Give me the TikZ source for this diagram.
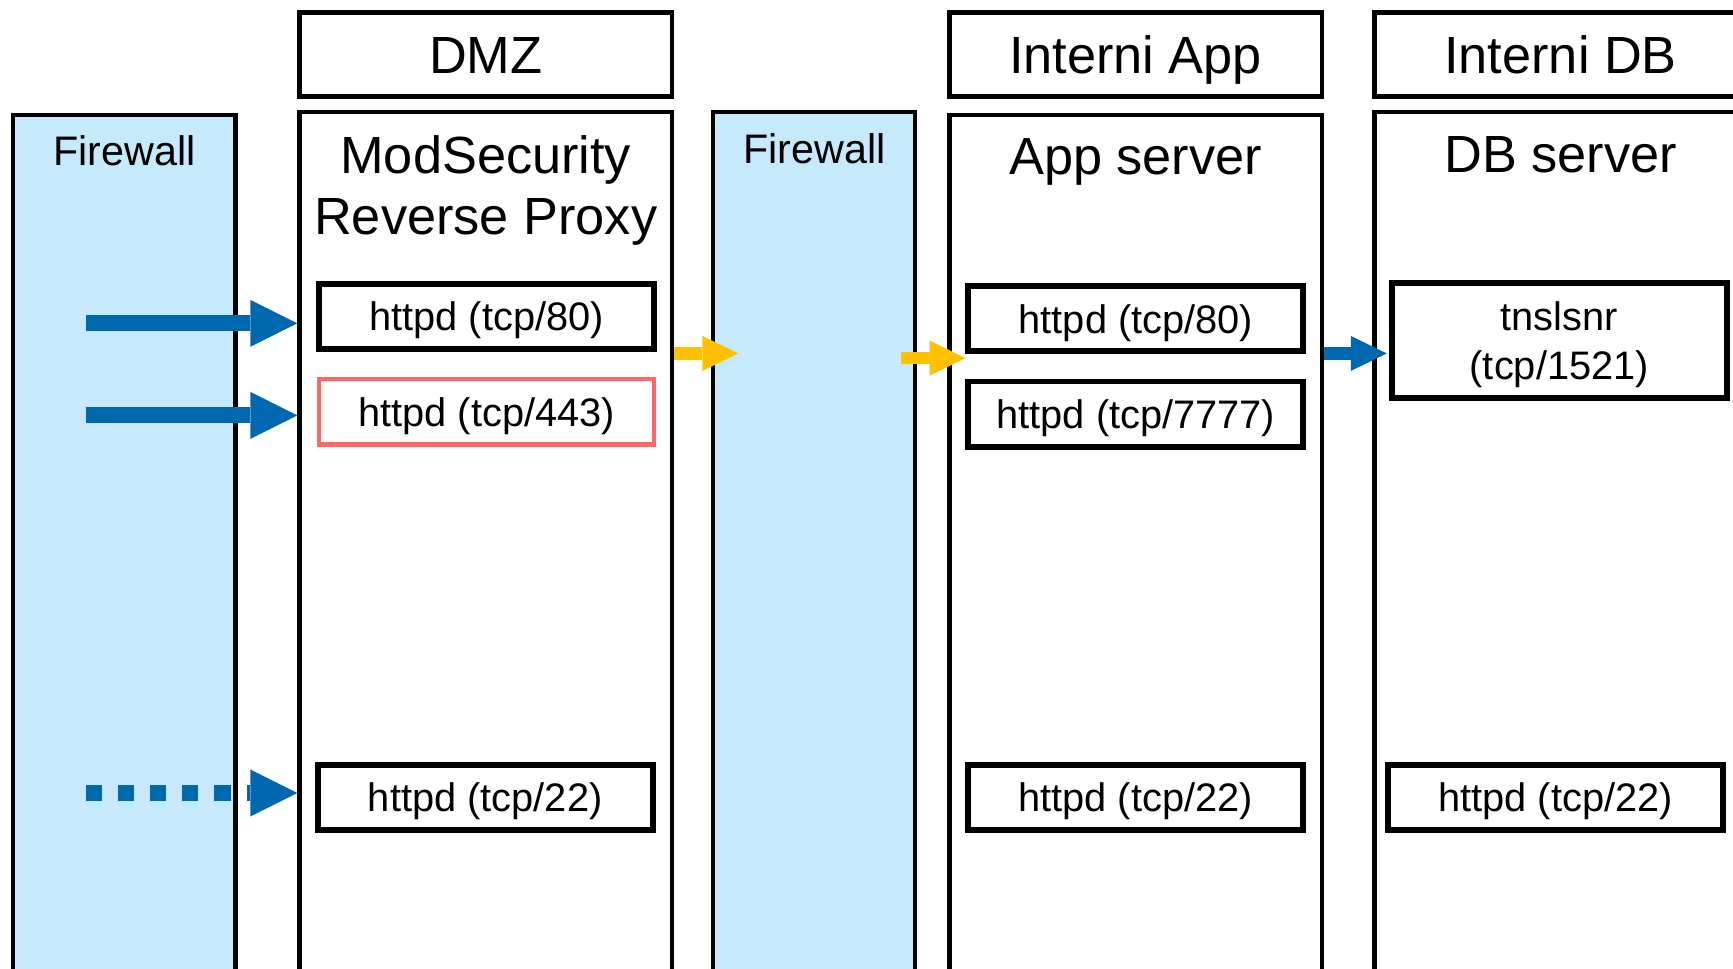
\documentclass[tikz,border=0pt]{standalone}
\usepackage{fontspec}
\setmainfont{Liberation Sans}
\usetikzlibrary{arrows.meta}

\definecolor{fwfill}{RGB}{198,233,252}
\definecolor{flowblue}{RGB}{0,104,174}
\definecolor{flowyellow}{RGB}{255,192,0}
\definecolor{tlsred}{RGB}{255,102,102}

\tikzset{every picture/.style={line width=0.75pt}}
\tikzset{
	zonebox/.style={draw, line width=3pt, minimum height=645pt, anchor=north, inner sep=0pt},
	fwbox/.style={zonebox, fill=fwfill},
	headbox/.style={draw, line width=3.2pt, minimum width=252.75pt, minimum height=57.45pt, inner sep=0pt, text height=25.5pt, text depth=0pt, font=\fontsize{35.5}{42}\selectfont},
	portbox/.style={draw, line width=4pt, minimum width=227.25pt, minimum height=44.25pt, inner sep=0pt, font=\fontsize{27}{32.8}\selectfont},
	oneline/.style={text height=19.5pt, text depth=0pt},
	zonetitle/.style={anchor=base, align=center, font=\fontsize{35.5}{42}\selectfont},
	fwtitle/.style={anchor=base, font=\fontsize{28}{33}\selectfont},
	bigflow/.style={color=flowblue, line width=10.9pt, -{Triangle[length=31.9pt 0 0, width=31.9pt 0 0, line width=0pt 0 0]}},
	smallflow/.style={line width=8.2pt, -{Triangle[length=24.4pt 0 0, width=23.8pt 0 0, line width=0pt 0 0]}},
}

\begin{document}
\begin{tikzpicture}[x=0.75pt,y=0.75pt,yscale=-1,xscale=1]
		\clip (0,0) rectangle (1568,876);
		
		%Zones
		\node[fwbox, minimum width=150.75pt] (fwext) at (112.5,102) {};
		\node[headbox] (dmzhead) at (439.5,49.3) {DMZ};
		\node[zonebox, minimum width=252.75pt] (mod) at (439.5,99.5) {};
		\node[fwbox, minimum width=137.25pt] (fwint) at (736.5,99.5) {};
		\node[headbox] (apphead) at (1027.5,49.3) {Interni App};
		\node[zonebox, minimum width=252.75pt] (app) at (1027.5,102) {};
		\node[headbox] (dbhead) at (1412,49.3) {Interni DB};
		\node[zonebox, minimum width=252.75pt] (db) at (1412,99.5) {};
		
		%Zone titles
		\node[fwtitle] (fwexttxt) at (112.5,149.3) {Firewall};
		\node[zonetitle] (modtxt) at (439.5,212.6) {ModSecurity\\Reverse Proxy};
		\node[fwtitle] (fwinttxt) at (737,147.8) {Firewall};
		\node[zonetitle] (apptxt) at (1027.5,158.3) {App server};
		\node[zonetitle] (dbtxt) at (1412,156.2) {DB server};
		
		%Services
		\node[portbox, oneline] (dmz80) at (440.3,286.4) {httpd (tcp/80)};
		\node[portbox, oneline, draw=tlsred, line width=3pt] (dmz443) at (440.3,372.5) {httpd (tcp/443)};
		\node[portbox, oneline] (dmz22) at (439,721.5) {httpd (tcp/22)};
		\node[portbox, oneline] (app80) at (1027.7,288.4) {httpd (tcp/80)};
		\node[portbox, oneline] (app7777) at (1027.7,374.7) {httpd (tcp/7777)};
		\node[portbox, oneline] (app22) at (1027.5,721.5) {httpd (tcp/22)};
		\node[portbox, minimum height=78pt, align=center, text depth=0pt] (tns) at (1410.8,308.1) {tnslsnr\\(tcp/1521)};
		\node[portbox, oneline] (db22) at (1407.5,721.5) {httpd (tcp/22)};
		
		%Flows
		\coordinate (wan80) at (78,292.5);
		\coordinate (wan443) at (78,375.8);
		\coordinate (wan22) at (77.8,717.5);
		\coordinate (lan1) at (668,319.8);
		\coordinate (fwout) at (815,324);
		\coordinate (dbin) at (1254.7,319.8);
		\draw[bigflow] (wan80) -- (wan80 -| mod.west);
		\draw[bigflow] (wan443) -- (wan443 -| mod.west);
		\draw[bigflow, dash pattern=on 10.9pt off 10.9pt] (wan22) -- (wan22 -| mod.west);
		\draw[smallflow, color=flowyellow] (lan1 -| mod.east) -- (lan1);
		\draw[smallflow, color=flowyellow] (fwout) -- (fwout -| app80.west);
		\draw[smallflow, color=flowblue] (dbin -| app.east) -- (dbin);
		
\end{tikzpicture}
\end{document}
